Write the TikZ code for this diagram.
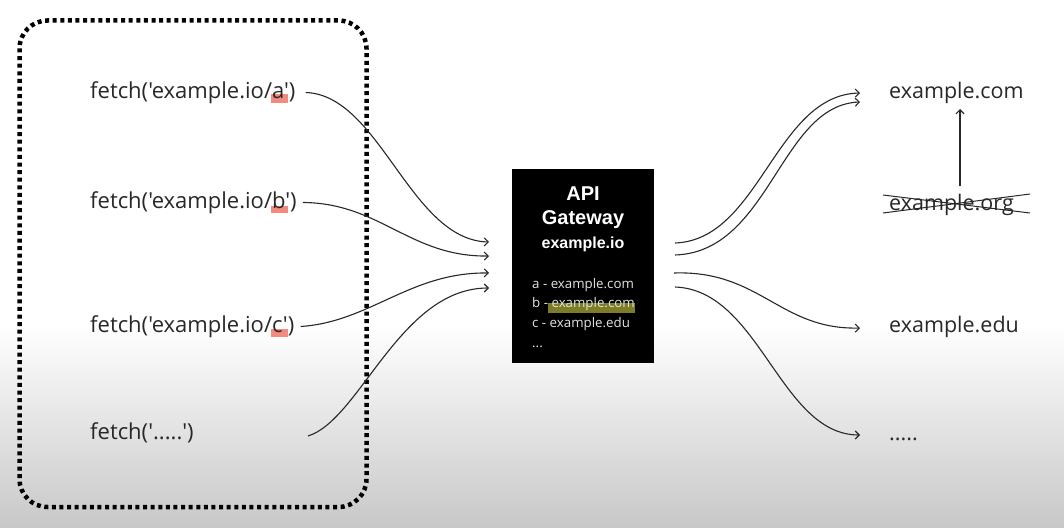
\documentclass[tikz,border=0pt]{standalone}
\usepackage{fontspec}
\newfontfamily\osf{Open Sans}
\newfontfamily\gwfont{Liberation Sans}
\usetikzlibrary{arrows.meta,calc}
\definecolor{bgbot}{RGB}{200,200,200}
\definecolor{hlred}{RGB}{242,138,128}
\definecolor{hlolive}{RGB}{125,125,40}
\definecolor{ink}{RGB}{40,40,40}
\definecolor{listgray}{RGB}{228,228,228}
\begin{document}
\begin{tikzpicture}[x=1pt,y=-1pt,
  lbl/.style={font=\osf\fontsize{21.5}{24}\selectfont, text=ink, inner sep=0pt,
              text height=16pt, text depth=5pt, anchor=west},
  call/.style={lbl, font=\osf\fontsize{22}{24}\selectfont},
  conn/.style={draw=ink, line width=1.1pt, -{Straight Barb[length=4pt,width=8pt]}},
  gwtitle/.style={font=\gwfont\bfseries\fontsize{20}{22}\selectfont, text=white, anchor=base, inner sep=0pt},
  gwsub/.style={font=\gwfont\bfseries\fontsize{16}{18}\selectfont, text=white, anchor=base, inner sep=0pt},
  gwlist/.style={font=\osf\fontsize{13.3}{15}\selectfont, text=listgray, anchor=base west, inner sep=0pt},
  dotbox/.style={draw=black, line width=4.5pt, dash pattern=on 4pt off 3.6pt, rounded corners=28pt},
  cross/.style={draw=ink, line width=1pt}]
\useasboundingbox (0,0) rectangle (1064,527);
% background
\fill[white] (0,0) rectangle (1064,326);
\shade[top color=white,bottom color=bgbot] (0,325) rectangle (1064,527);

% dotted client box
\draw[dotbox] (19.5,20.5) rectangle (366.5,507);

% red highlights
\fill[hlred] (271,94) rectangle (288,103);
\fill[hlred] (271,206) rectangle (288,213);
\fill[hlred] (271,329) rectangle (288,337);

% client calls
\node[call] (fa) at (90,92.5) {fetch('example.io/a')};
\node[call] (fb) at (90,202.5) {fetch('example.io/b')};
\node[call] (fc) at (90,326.5) {fetch('example.io/c')};
\node[call] (fd) at (90,433.5) {fetch('.....')};

% gateway
\node[fill=black, minimum width=142pt, minimum height=194pt, inner sep=0pt] (gw) at (583,266) {};
\fill[hlolive] (548,303) rectangle (635,313);
\node[gwtitle] (t1) at (583,200) {API};
\node[gwtitle] (t2) at (583,224) {Gateway};
\node[gwsub] (t3) at (583,248) {example.io};
\node[gwlist] (l1) at (532,288) {a - example.com};
\node[gwlist] (l2) at (532,307) {b - example.com};
\node[gwlist] (l3) at (532,327) {c - example.edu};
\node[gwlist] (l4) at (532,347) {...};

% targets
\node[lbl] (ec) at (889,92.5) {example.com};
\node[lbl] (eo) at (889,204.5) {example.org};
\node[lbl] (ee) at (889,326.5) {example.edu};
\node[lbl] (ed) at (889,434.5) {.....};

% cross over example.org
\draw[cross] (883,195) -- (1030,213);
\draw[cross] (883,213) -- (1030,194);

% gateway side endpoints
\coordinate (g1) at (489,242);
\coordinate (g2) at (489,256);
\coordinate (g3) at (489,273);
\coordinate (g4) at (489,288);
\coordinate (o1) at (675,243);
\coordinate (o2) at (675,255);
\coordinate (o3) at (674,273);
\coordinate (o4) at (675,287);

% incoming
\draw[conn] ($(fa.east)+(10,0)$) .. controls (380,95) and (410,240) .. (g1);
\draw[conn] ($(fb.east)+(6,0)$) .. controls (380,203) and (410,257) .. (g2);
\draw[conn] ($(fc.east)+(6,0)$) .. controls (370,322) and (410,272) .. (g3);
\draw[conn] ($(fd.east)+(114,2.5)$) .. controls (360,420) and (400,288) .. (g4);

% outgoing
\draw[conn] (o1) .. controls (760,240) and (775,95) .. ($(ec.west)+(-29,0.5)$);
\draw[conn] (o2) .. controls (770,252) and (780,105) .. ($(ec.west)+(-29,9.5)$);
\draw[conn] (o3) .. controls (760,270) and (780,330) .. ($(ee.west)+(-29,1.5)$);
\draw[conn] (o4) .. controls (760,290) and (780,435) .. ($(ed.west)+(-29,0.5)$);

% redirect org -> com
\draw[conn] (960,186) -- (960,109);
\end{tikzpicture}
\end{document}
